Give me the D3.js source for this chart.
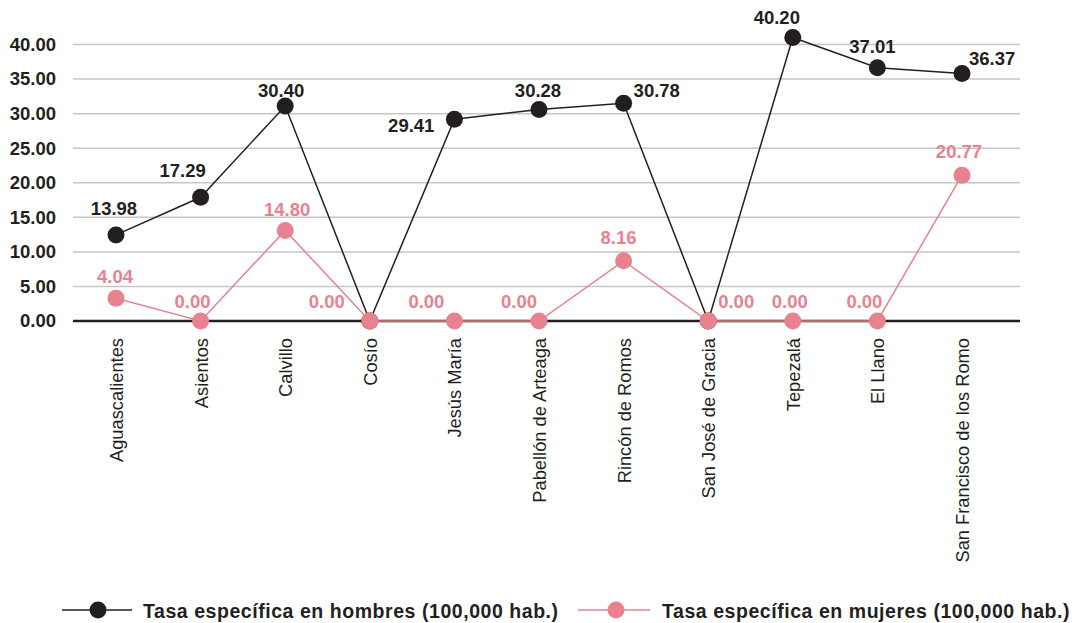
<!DOCTYPE html>
<html>
<head>
<meta charset="utf-8">
<script src="https://cdn.jsdelivr.net/npm/d3@7"></script>
<style>
  html, body { margin: 0; padding: 0; background: #ffffff; }
  svg { display: block; font-family: "Liberation Sans", Arial, Helvetica, sans-serif; }
</style>
</head>
<body>
<svg id="chart" width="1072" height="623"></svg>
<script>
// ---------- DATA ----------
const categories = ["Aguascalientes", "Asientos", "Calvillo", "Cosío", "Jesús María",
  "Pabellón de Arteaga", "Rincón de Romos", "San José de Gracia", "Tepezalá",
  "El Llano", "San Francisco de los Romo"];

// plotted values (as positioned in the picture)
const hombresValues = [12.45, 17.9, 31.1, 0, 29.2, 30.6, 31.5, 0, 41.0, 36.65, 35.8];
const mujeresValues = [3.3, 0, 13.1, 0, 0, 0, 8.7, 0, 0, 0, 21.1];

// printed data labels
const hombresLabels = ["13.98", "17.29", "30.40", "", "29.41", "30.28", "30.78", "", "40.20", "37.01", "36.37"];
const mujeresLabels = ["4.04", "0.00", "14.80", "0.00", "0.00", "0.00", "8.16", "0.00", "0.00", "0.00", "20.77"];

const yTicks = [0, 5, 10, 15, 20, 25, 30, 35, 40];
const seriesNames = ["Tasa específica en hombres (100,000 hab.)", "Tasa específica en mujeres (100,000 hab.)"];

// ---------- LAYOUT ----------
const colors = { hombres: "#231f20", mujeres: "#e8828f" };
const plotLeft = 73, plotRight = 1020;
// label placement [dx, dy, anchor] relative to each marker
const hombresPlace = [[-2,-20,"middle"],[-18,-20,"middle"],[-4,-9,"middle"],null,[-20,13,"end"],
  [-1,-12,"middle"],[10,-6,"start"],null,[-16,-14,"middle"],[-5,-15,"middle"],[7,-9,"start"]];
const mujeresPlace = [[-1,-15,"middle"],[-8,-13,"middle"],[2,-14,"middle"],[-43,-13,"middle"],
  [-28,-13,"middle"],[-20,-13,"middle"],[-5,-17,"middle"],[28,-13,"middle"],[-3,-13,"middle"],
  [-13,-13,"middle"],[-3,-17,"middle"]];

const svg = d3.select("#chart");

const x = d3.scalePoint().domain(categories).range([116, 962]);
const y = d3.scaleLinear().domain([0, 40]).range([321, 44.5]);

// gridlines
svg.append("g")
  .selectAll("line").data(yTicks.filter(d => d !== 0)).join("line")
  .attr("x1", plotLeft).attr("x2", plotRight)
  .attr("y1", d => y(d)).attr("y2", d => y(d))
  .attr("stroke", "#c6c6c6").attr("stroke-width", 1.5);

// y axis labels
const yAxis = d3.axisLeft(y).tickValues(yTicks).tickFormat(d3.format(".2f")).tickSize(0).tickPadding(0);
const yg = svg.append("g").attr("transform", `translate(56,0)`).call(yAxis);
yg.select(".domain").remove();
yg.selectAll("text")
  .attr("font-family", "Liberation Sans, Arial, sans-serif")
  .attr("font-size", 18.5).attr("font-weight", "bold").attr("fill", "#231f20");

// x axis labels (rotated)
const xAxis = d3.axisBottom(x).tickSize(0).tickPadding(0);
const xg = svg.append("g").attr("transform", `translate(0,321)`).call(xAxis);
xg.select(".domain").remove();
xg.selectAll("text")
  .attr("font-family", "Liberation Sans, Arial, sans-serif")
  .attr("font-size", 18.3).attr("fill", "#231f20")
  .attr("transform", "rotate(-90)")
  .attr("text-anchor", "end")
  .attr("x", -17).attr("y", 0).attr("dy", "0.35em");

// black series
const lineGen = d3.line().x((d, i) => x(categories[i])).y(d => y(d));
svg.append("path").datum(hombresValues)
  .attr("d", lineGen).attr("fill", "none").attr("stroke", colors.hombres).attr("stroke-width", 1.5);
svg.append("g").selectAll("circle").data(hombresValues).join("circle")
  .attr("cx", (d, i) => x(categories[i])).attr("cy", d => y(d)).attr("r", 8.5)
  .attr("fill", colors.hombres);

// zero axis line
svg.append("line").attr("x1", plotLeft).attr("x2", plotRight)
  .attr("y1", y(0)).attr("y2", y(0)).attr("stroke", "#231f20").attr("stroke-width", 2.5);

// pink series
svg.append("path").datum(mujeresValues)
  .attr("d", lineGen).attr("fill", "none").attr("stroke", colors.mujeres).attr("stroke-width", 1.5);
svg.append("g").selectAll("circle").data(mujeresValues).join("circle")
  .attr("cx", (d, i) => x(categories[i])).attr("cy", d => y(d)).attr("r", 8.5)
  .attr("fill", colors.mujeres);

// data labels
function addLabels(values, labels, place, color) {
  svg.append("g").selectAll("text")
    .data(values.map((v, i) => ({ v, i, t: labels[i], p: place[i] })).filter(d => d.p && d.t))
    .join("text")
    .attr("x", d => x(categories[d.i]) + d.p[0])
    .attr("y", d => y(d.v) + d.p[1])
    .attr("text-anchor", d => d.p[2])
    .attr("font-size", 18.5).attr("font-weight", "bold")
    .attr("fill", color)
    .text(d => d.t);
}
addLabels(hombresValues, hombresLabels, hombresPlace, colors.hombres);
addLabels(mujeresValues, mujeresLabels, mujeresPlace, colors.mujeres);

// legend
const legendItems = [
  { name: seriesNames[0], color: colors.hombres, x1: 62, x2: 132, cx: 98, tx: 143 },
  { name: seriesNames[1], color: colors.mujeres, x1: 578, x2: 650, cx: 616, tx: 662 }
];
const lg = svg.append("g");
legendItems.forEach(it => {
  lg.append("line").attr("x1", it.x1).attr("x2", it.x2).attr("y1", 610).attr("y2", 610)
    .attr("stroke", it.color).attr("stroke-width", 1.5);
  lg.append("circle").attr("cx", it.cx).attr("cy", 610).attr("r", 8.5).attr("fill", it.color);
  lg.append("text").attr("x", it.tx).attr("y", 617.5).attr("font-size", 19.5)
    .attr("letter-spacing", 0.55)
    .attr("font-weight", "bold").attr("fill", "#231f20").text(it.name);
});
</script>
</body>
</html>
